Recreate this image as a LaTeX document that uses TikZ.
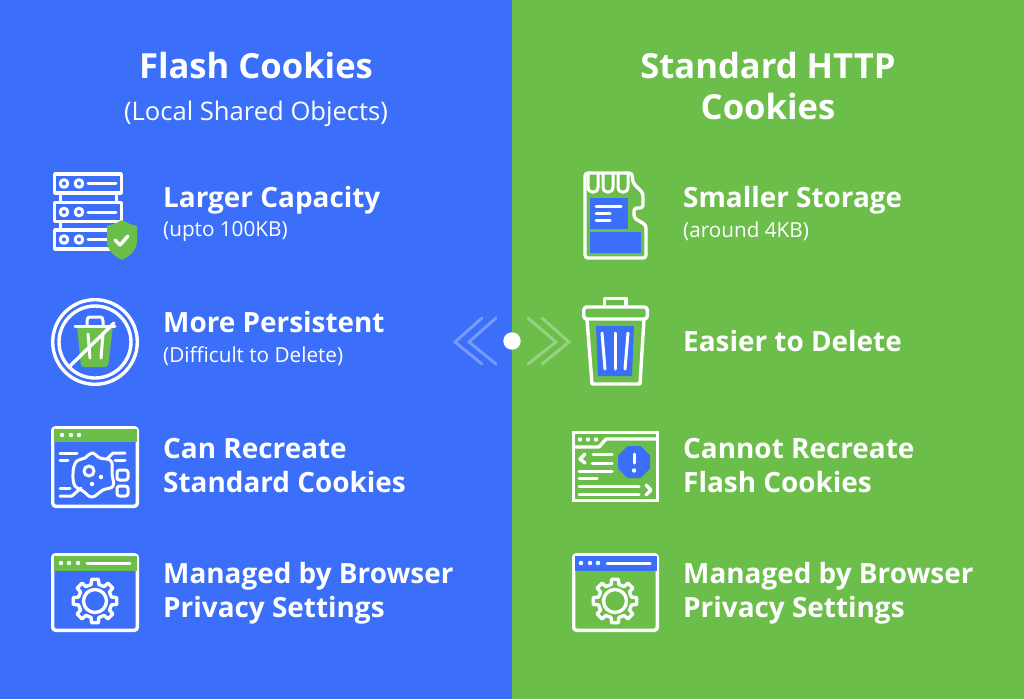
\documentclass[tikz,border=0pt]{standalone}
\usepackage{fontspec}
\setmainfont{Open Sans}
\definecolor{flashblue}{HTML}{3B6FF9}
\definecolor{httpgreen}{HTML}{6CBE4B}
\tikzset{
	titlelabel/.style={text=white,font=\fontsize{34.6}{41}\selectfont\bfseries,align=center,inner sep=0pt},
	sublabel/.style={text=white,font=\fontsize{25.6}{30}\selectfont,inner sep=0pt},
	itemlabel/.style={text=white,font=\fontsize{27.9}{34}\selectfont\bfseries,align=left,anchor=west,inner sep=0pt},
	noterow/.style={text=white,font=\fontsize{20.7}{25}\selectfont,anchor=west,inner sep=0pt},
	iconline/.style={draw=white,line width=3.4pt,line cap=round,line join=round},
	thinline/.style={draw=white,line width=3pt,line cap=round,line join=round},
	chevron/.style={draw=white,draw opacity=0.3,line width=3pt,line cap=round},
}
\newcommand{\gearwheel}{%
	\draw[iconline] (-9:22) \foreach \a in {0,45,...,315} {
		-- (\a-9:22) -- (\a+9:22) -- (\a+13:17) -- (\a+32:17)
		} -- cycle;
	\draw[iconline] (0,0) circle (11.5);
}
\begin{document}
\begin{tikzpicture}[x=1pt,y=-1pt]
	\useasboundingbox (0,0) rectangle (1024,699);
	\fill[flashblue] (0,0) rectangle (512,699);
	\fill[httpgreen] (512,0) rectangle (1024,699);

	% headings
	\node[titlelabel] (flashtitle) at (256,66) {Flash Cookies};
	\node[sublabel] (flashsub) at (256,114) {(Local Shared Objects)};
	\node[titlelabel] (httptitle) at (768,86.5) {Standard HTTP\\Cookies};

	% left column
	\node[itemlabel] (capacity) at (163,200) {Larger Capacity};
	\node[noterow] (capacitynote) at (163,231) {(upto 100KB)};
	\node[itemlabel] (persistent) at (163,322) {More Persistent};
	\node[noterow] (persistentnote) at (163,356) {(Difficult to Delete)};
	\node[itemlabel] (recreate) at (163,466) {Can Recreate\\Standard Cookies};
	\node[itemlabel] (flashprivacy) at (163,593) {Managed by Browser\\Privacy Settings};

	% right column
	\node[itemlabel] (storage) at (683,200) {Smaller Storage};
	\node[noterow] (storagenote) at (683,231) {(around 4KB)};
	\node[itemlabel] (delete) at (683,341) {Easier to Delete};
	\node[itemlabel] (norecreate) at (683,466) {Cannot Recreate\\Flash Cookies};
	\node[itemlabel] (httpprivacy) at (683,593) {Managed by Browser\\Privacy Settings};

	% middle mark
	\draw[chevron] (482,318) -- (455,342) -- (482,364);
	\draw[chevron] (496,318) -- (469,342) -- (496,364);
	\draw[chevron] (528,318) -- (556,342) -- (528,364);
	\draw[chevron] (542,318) -- (569,342) -- (542,364);
	\fill[white] (512,341) circle (8.7);

	% server with shield
	\foreach \y in {174,202.5,230} {
		\draw[iconline,shift={(0,\y)}] (54.7,0) rectangle (121.3,19);
		\draw[thinline,shift={(0,\y)}] (88,9.5) -- (116,9.5);
		\draw[thinline,shift={(0,\y)}] (64,9.5) circle (3.8);
		\draw[thinline,shift={(0,\y)}] (79,9.5) circle (3.8);
	}
	\foreach \y in {193,221.5} {
		\draw[thinline] (60,\y) -- (60,\y+8.5);
		\draw[thinline] (116,\y) -- (116,\y+8.5);
	}
	\fill[httpgreen] (122,220) -- (130,224) -- (137,226) -- (137,241) .. controls (137,250) and (130,256) .. (122,260)
		.. controls (114,256) and (107,250) .. (107,241) -- (107,226) -- (114,224) -- cycle;
	\draw[iconline] (115,240) -- (120,245) -- (128,236);

	% crossed bin
	\draw[iconline] (95,342) circle (42.3);
	\draw[iconline] (95,342) circle (36);
	\fill[httpgreen,rounded corners=3pt] (77,326) -- (113,326) -- (108,367) -- (81,367) -- cycle;
	\draw[thinline] (75,326) -- (115,326);
	\draw[thinline] (87,326) -- (87,321) .. controls (87,318) and (88,317) .. (90,317) -- (100,317) .. controls (102,317) and (103,318) .. (103,321) -- (103,326);
	\draw[thinline] (88,334) -- (90,358);
	\draw[thinline] (103,334) -- (101,358);
	\draw[iconline] (114,323) -- (70,366);

	% window with blob
	\draw[iconline,rounded corners=3pt] (52.7,427.7) rectangle (137.3,506.3);
	\fill[httpgreen] (53.5,429) rectangle (136.5,442);
	\foreach \x in {62,71,79}
		\fill[white] (\x,435) circle (2.2);
	\draw[thinline] plot[smooth cycle,tension=0.7] coordinates {(92,453) (100,458) (111,461) (112,474) (113,486) (103,490) (92,497) (83,491) (75,486) (73,474) (76,462) (85,458)};
	\draw[thinline] (89,471) circle (5);
	\fill[white] (101,477) circle (2.2);
	\fill[white] (92,484) circle (2.2);
	\draw[thinline] (60,453) -- (77,453);
	\draw[thinline] (60,460) -- (68,460);
	\draw[thinline] (125,453) -- (113,453) -- (107,459);
	\draw[thinline] (125,460) -- (115,460);
	\draw[thinline] (60,488) -- (70,488);
	\draw[thinline] (60,496) -- (72,496) -- (81,488);
	\draw[thinline,rounded corners=2.5pt] (117,470) rectangle (128,480);
	\draw[thinline,rounded corners=2.5pt] (117,486) rectangle (128,496);

	% window with gear, left
	\draw[iconline,rounded corners=3pt] (52.7,554.7) rectangle (137.3,630.3);
	\fill[httpgreen] (53.5,556) rectangle (136.5,571);
	\foreach \x in {61,69,78}
		\fill[white] (\x,563) circle (2.2);
	\draw[thinline] (87,563) -- (130,563);
	\begin{scope}[shift={(95,601)}]
		\gearwheel
	\end{scope}

	% memory card
	\fill[flashblue] (590,198) rectangle (628,229);
	\fill[flashblue] (590,232) rectangle (641,253);
	\draw[iconline,rounded corners=3pt] (585,173) -- (632,173) -- (633,183) -- (643,193) -- (643,208) -- (634,208) -- (634,218) -- (646,225) -- (646,258) -- (585,258) -- cycle;
	\foreach \x in {593,608,623}
		\draw[thinline] (\x-5,173) -- (\x-5,187) .. controls (\x-5,194) and (\x+5,194) .. (\x+5,187) -- (\x+5,173);
	\draw[thinline] (596,206) -- (621,206);
	\draw[thinline] (596,213) -- (610,213);
	\draw[thinline] (596,220) -- (610,220);

	% open bin
	\fill[flashblue] (596,326) -- (634,326) -- (632,376) -- (598,376) -- cycle;
	\draw[iconline] (604.5,306) -- (604.5,298.5) -- (626,298.5) -- (626,306);
	\draw[iconline,rounded corners=3pt] (583.7,307) rectangle (647.3,319);
	\draw[iconline] (587,319) -- (592,384) -- (640,384) -- (644,319);
	\draw[thinline] (602,333) -- (605,369);
	\draw[thinline] (615,333) -- (615,369);
	\draw[thinline] (628,333) -- (625,369);

	% window with warning
	\draw[iconline,line cap=butt,line join=miter] (573.7,432.7) rectangle (657.3,500.3);
	\draw[iconline,line cap=butt] (573.7,447) -- (599,447) -- (606,439) -- (657.3,439);
	\foreach \x in {580,588,596}
		\fill[white] (\x,439.5) circle (2.2);
	\fill[flashblue] (627.5,446) -- (640.5,446) -- (650,455.5) -- (650,468.5) -- (640.5,478) -- (627.5,478) -- (618,468.5) -- (618,455.5) -- cycle;
	\draw[thinline] (634,454) -- (634,463);
	\fill[white] (634,470.5) circle (2.2);
	\draw[iconline] (585,454) -- (580,459) -- (585,463);
	\draw[thinline] (593,454) -- (612,454);
	\draw[thinline] (592,463) -- (612,463);
	\draw[thinline] (579,471) -- (612,471);
	\draw[thinline] (579,478) -- (597,478);
	\draw[thinline] (579,486) -- (639,486);
	\draw[thinline] (579,494) -- (639,494);
	\draw[iconline] (646,485) -- (651,490) -- (646,495);

	% window with gear, right
	\draw[iconline,rounded corners=3pt] (573.7,554.7) rectangle (657.3,630.3);
	\fill[flashblue] (574.5,556) rectangle (656.5,571);
	\foreach \x in {581,590,598}
		\fill[white] (\x,563) circle (2.2);
	\draw[thinline] (607,563) -- (650,563);
	\begin{scope}[shift={(615,601)}]
		\gearwheel
	\end{scope}
\end{tikzpicture}
\end{document}
